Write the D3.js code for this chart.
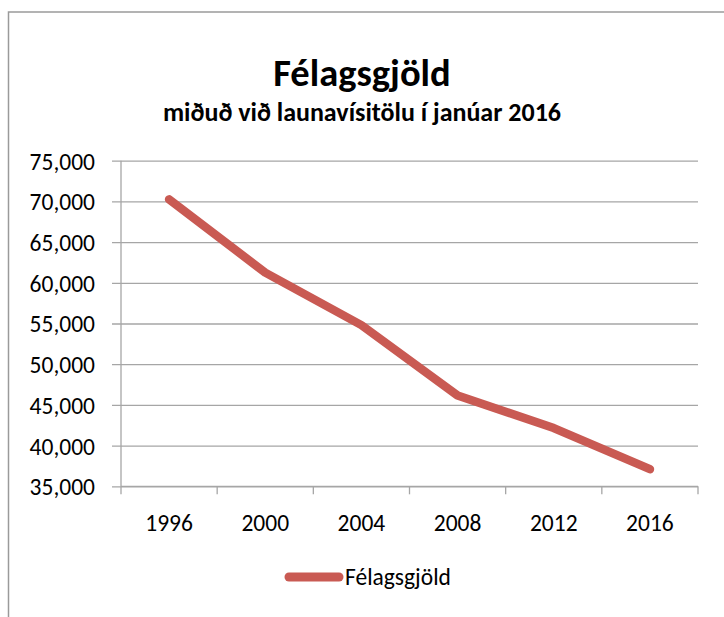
<!DOCTYPE html>
<html>
<head>
<meta charset="utf-8">
<script src="https://d3js.org/d3.v7.min.js"></script>
<style>
  body { margin: 0; background: #fff; }
  svg { display: block; }
  text { font-family: Carlito, Calibri, Lato, "Open Sans", sans-serif; fill: #000; }
</style>
</head>
<body>
<div class="chart"></div>
<script>
    // data
    const years = ["1996", "2000", "2004", "2008", "2012", "2016"];
    const fees = [70250, 61250, 54800, 46150, 42150, 37100];
    const yTicks = [35000, 40000, 45000, 50000, 55000, 60000, 65000, 70000, 75000];
    const seriesName = "Félagsgjöld";
    const title = "Félagsgjöld";
    const subtitle = "miðuð við launavísitölu í janúar 2016";

    const width = 724, height = 617;
    const plot = { left: 121, right: 698, top: 160.7, bottom: 486.3 };
    const lineColor = "#C95A53";
    const gridColor = "#A6A6A6";

    const svg = d3.select(".chart").append("svg")
        .attr("width", width)
        .attr("height", height);

    // outer chart frame (runs off the right and bottom of the view)
    svg.append("rect")
        .attr("x", 8.5)
        .attr("y", 12)
        .attr("width", width + 20)
        .attr("height", height + 20)
        .attr("fill", "none")
        .attr("stroke", "#9A9A9A")
        .attr("stroke-width", 1.5);

    const xScale = d3.scaleBand()
        .domain(years)
        .range([plot.left, plot.right])
        .padding(0);

    const yScale = d3.scaleLinear()
        .domain([35000, 75000])
        .range([plot.bottom, plot.top]);

    // gridlines + y axis
    const yAxis = d3.axisLeft(yScale)
        .tickValues(yTicks)
        .tickSize(-(plot.right - plot.left))
        .tickFormat(d3.format(",d"));

    const gy = svg.append("g")
        .attr("class", "axis y-axis")
        .attr("transform", `translate(${plot.left},0)`)
        .call(yAxis);
    gy.select(".domain").remove();
    gy.selectAll(".tick line")
        .attr("x1", -9)
        .attr("stroke", gridColor)
        .attr("stroke-width", 1.3);
    gy.selectAll(".tick text")
        .attr("x", -26)
        .attr("dy", "0.36em")
        .style("font-size", "23.5px")
        .style("font-family", "Carlito, Calibri, Lato, sans-serif");

    svg.append("line")
        .attr("x1", plot.left).attr("x2", plot.left)
        .attr("y1", plot.top).attr("y2", plot.bottom)
        .attr("stroke", gridColor)
        .attr("stroke-width", 1.3);

    // x axis with ticks between categories
    const xAxis = d3.axisBottom(xScale).tickSize(0).tickPadding(0);
    const gx = svg.append("g")
        .attr("class", "axis x-axis")
        .attr("transform", `translate(0,${plot.bottom})`)
        .call(xAxis);
    gx.select(".domain")
        .attr("d", `M${plot.left},0H${plot.right}`)
        .attr("stroke", gridColor)
        .attr("stroke-width", 1.3);
    gx.selectAll(".tick text")
        .attr("y", 45)
        .attr("dy", "0")
        .style("font-size", "23.5px")
        .style("font-family", "Carlito, Calibri, Lato, sans-serif");

    const boundaries = years.map(d => xScale(d)).concat([xScale.range()[1]]);
    gx.selectAll(".cat-tick")
        .data(boundaries)
        .enter()
        .append("line")
        .attr("class", "cat-tick")
        .attr("x1", d => d).attr("x2", d => d)
        .attr("y1", 0).attr("y2", 8)
        .attr("stroke", gridColor)
        .attr("stroke-width", 1.3);

    // the series line
    const line = d3.line()
        .x((d, i) => xScale(years[i]) + xScale.bandwidth() / 2)
        .y(d => yScale(d))
        .curve(d3.curveLinear);

    svg.append("path")
        .datum(fees)
        .attr("d", line)
        .attr("fill", "none")
        .attr("stroke", lineColor)
        .attr("stroke-width", 8.5)
        .attr("stroke-linejoin", "round")
        .attr("stroke-linecap", "round");

    // titles
    svg.append("text")
        .attr("x", 362)
        .attr("y", 86)
        .attr("text-anchor", "middle")
        .style("font-weight", "bold")
        .style("font-size", "38.5px")
        .text(title);

    svg.append("text")
        .attr("x", 362)
        .attr("y", 121)
        .attr("text-anchor", "middle")
        .style("font-weight", "bold")
        .style("font-size", "26px")
        .text(subtitle);

    // legend
    const legend = svg.append("g").attr("class", "legend");
    legend.append("line")
        .attr("x1", 289).attr("x2", 339)
        .attr("y1", 577).attr("y2", 577)
        .attr("stroke", lineColor)
        .attr("stroke-width", 9)
        .attr("stroke-linecap", "round");
    legend.append("text")
        .attr("x", 345)
        .attr("y", 585)
        .style("font-size", "23.5px")
        .text(seriesName);
</script>
</body>
</html>
